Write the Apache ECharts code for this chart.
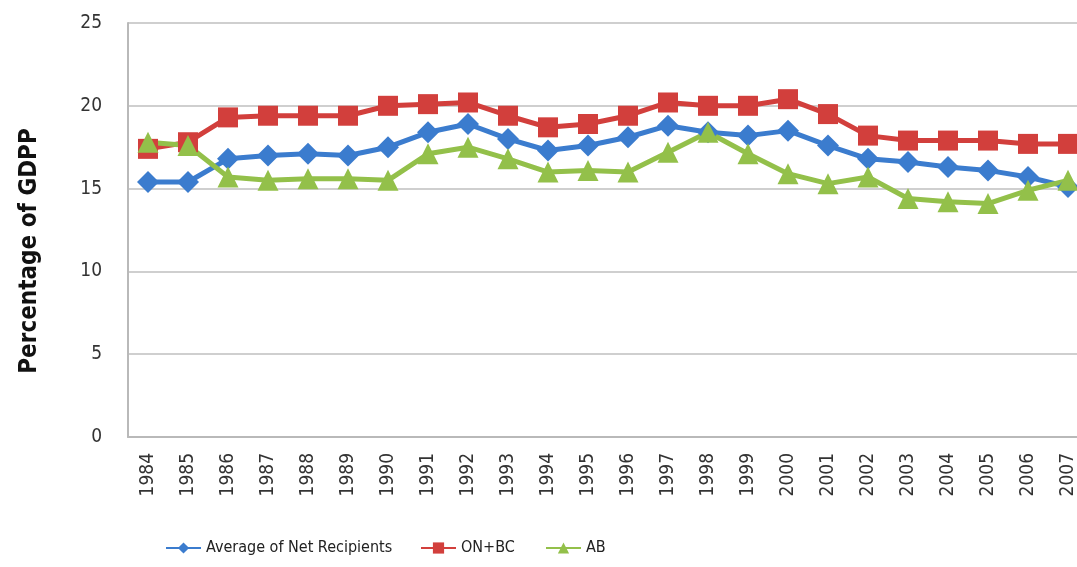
<!DOCTYPE html>
<html>
<head>
<meta charset="utf-8">
<script src="https://cdn.jsdelivr.net/npm/echarts@6/dist/echarts.min.js"></script>
<style>
  html, body { margin: 0; padding: 0; background: #fff; overflow: hidden; }
  /* plot runs past the right edge in the original, so the div is wider than the window */
  #chart { width: 1100px; height: 567px; }
</style>
</head>
<body>
<div id="chart"></div>
<script>
// data
var years = ['1984', '1985', '1986', '1987', '1988', '1989', '1990', '1991', '1992', '1993', '1994', '1995',
             '1996', '1997', '1998', '1999', '2000', '2001', '2002', '2003', '2004', '2005', '2006', '2007'];
var avgNetRecipients = [15.4, 15.4, 16.8, 17.0, 17.1, 17.0, 17.5, 18.4, 18.9, 18.0, 17.3, 17.6,
                        18.1, 18.8, 18.4, 18.2, 18.5, 17.6, 16.8, 16.6, 16.3, 16.1, 15.7, 15.1];
var onBc = [17.4, 17.8, 19.3, 19.4, 19.4, 19.4, 20.0, 20.1, 20.2, 19.4, 18.7, 18.9,
            19.4, 20.2, 20.0, 20.0, 20.4, 19.5, 18.2, 17.9, 17.9, 17.9, 17.7, 17.7];
var ab = [17.8, 17.6, 15.7, 15.5, 15.6, 15.6, 15.5, 17.1, 17.5, 16.8, 16.0, 16.1,
          16.0, 17.2, 18.4, 17.1, 15.9, 15.3, 15.7, 14.4, 14.2, 14.1, 14.9, 15.5];
var yTicks = { min: 0, max: 25, interval: 5 };

var font = "'DejaVu Sans Condensed', 'Liberation Sans Narrow', sans-serif";
var legendText = { fontFamily: font, fontSize: 16, color: '#222' };

function legendAt(name, left) {
    return {
        data: [name],
        left: left,
        bottom: 6,
        itemWidth: 35,
        itemHeight: 14,
        textStyle: legendText
    };
}

var chart = echarts.init(document.getElementById('chart'));
chart.setOption({
    animation: false,
    textStyle: { fontFamily: font },
    grid: { left: 128, top: 23, width: 960, height: 414 },
    legend: [
        legendAt('Average of Net Recipients', 160),
        legendAt('ON+BC', 415),
        legendAt('AB', 540)
    ],
    xAxis: {
        type: 'category',
        boundaryGap: true,
        data: years,
        axisLine: { lineStyle: { color: '#b9b9b9', width: 2 } },
        axisTick: { show: false },
        axisLabel: { rotate: 90, margin: 16, fontSize: 19, color: '#333', fontFamily: font }
    },
    yAxis: {
        type: 'value',
        min: yTicks.min,
        max: yTicks.max,
        interval: yTicks.interval,
        name: 'Percentage of GDPP',
        nameLocation: 'middle',
        nameRotate: 90,
        nameGap: 86,
        nameTextStyle: { fontSize: 24, fontWeight: 'bold', color: '#111', fontFamily: font, padding: [0, 42, 0, 0] },
        axisLine: { show: true, lineStyle: { color: '#b9b9b9', width: 2 } },
        axisTick: { show: false },
        axisLabel: { margin: 26, fontSize: 19, color: '#333', fontFamily: font },
        splitLine: { lineStyle: { color: '#cfcfcf', width: 2 } }
    },
    series: [
        {
            name: 'Average of Net Recipients',
            type: 'line',
            data: avgNetRecipients,
            symbol: 'diamond',
            symbolSize: 22,
            itemStyle: { color: '#3b7cce' },
            lineStyle: { width: 5, color: '#3b7cce' }
        },
        {
            name: 'ON+BC',
            type: 'line',
            data: onBc,
            symbol: 'rect',
            symbolSize: 20,
            itemStyle: { color: '#d23f3c' },
            lineStyle: { width: 5, color: '#d23f3c' }
        },
        {
            name: 'AB',
            type: 'line',
            data: ab,
            symbol: 'triangle',
            symbolSize: 21,
            itemStyle: { color: '#93c04a' },
            lineStyle: { width: 5, color: '#93c04a' }
        }
    ]
});
</script>
</body>
</html>
